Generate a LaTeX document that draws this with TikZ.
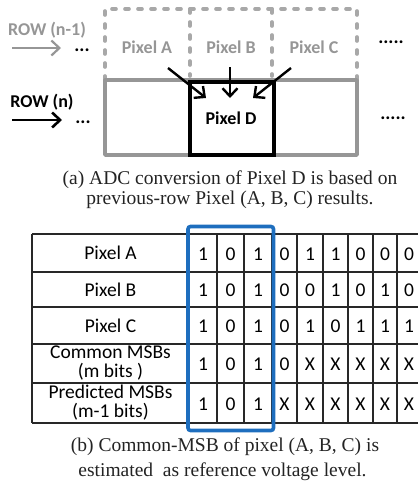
\documentclass[tikz,border=0pt]{standalone}
\usepackage{fontspec}
\setmainfont{Liberation Serif}
\newfontfamily\carlito{Carlito}
\usetikzlibrary{arrows.meta}
\definecolor{rowgray}{RGB}{150,150,150}
\definecolor{dashgray}{RGB}{168,168,168}
\definecolor{gridline}{RGB}{40,40,40}
\definecolor{msbblue}{RGB}{30,110,190}
\definecolor{captext}{RGB}{35,35,35}
\begin{document}
\begin{tikzpicture}[x=1pt,y=-1pt,
  pixlbl/.style={font=\carlito\bfseries\fontsize{18}{20}\selectfont, inner sep=0pt},
  dotlbl/.style={font=\carlito\bfseries\fontsize{19}{20}\selectfont, inner sep=0pt, text=black},
  celltxt/.style={font=\carlito\fontsize{19.5}{19}\selectfont, inner sep=0pt, align=center},
  captxt/.style={font=\fontsize{19.5}{20}\selectfont, text=captext, inner sep=0pt},
  barb/.style={-{Straight Barb[length=8pt,width=15pt,line width=2.4pt]}, line width=2.4pt},
  grid/.style={gridline, line width=1.4pt}]
\useasboundingbox (0,0) rectangle (418,485);

% ---------- (a) pixel rows ----------
% previous row: dashed outline
\draw[dashgray, line width=3.6pt, line cap=round, dash pattern=on 4pt off 9pt]
  (105,80) -- (105,9) -- (357,9) -- (357,80);
\draw[dashgray, line width=3.6pt, line cap=round, dash pattern=on 4pt off 9pt]
  (190,9) -- (190,76);
\draw[dashgray, line width=3.6pt, line cap=round, dash pattern=on 4pt off 9pt]
  (272,9) -- (272,76);
% current row: solid outline
\draw[rowgray, line width=3.4pt, line join=round] (105,80) rectangle (357,155);
% pixel D
\node[draw=black, line width=4pt, minimum width=84pt, minimum height=73pt, inner sep=0pt]
  (pD) at (232,118.5) {};
\node[pixlbl, text=black] (pDl) at (231,118) {Pixel D};

\node[pixlbl, text=rowgray] (pA) at (147,47) {Pixel A};
\node[pixlbl, text=rowgray] (pB) at (231,47) {Pixel B};
\node[pixlbl, text=rowgray] (pC) at (314,47) {Pixel C};

% arrows from A, B, C into D
\coordinate (fA) at (168,68);  \coordinate (tA) at (206,98);
\coordinate (fB) at (230,67);  \coordinate (tB) at (230,98);
\coordinate (fC) at (291,68);  \coordinate (tC) at (253,98);
\draw[barb] (fA) -- (tA);
\draw[barb] (fB) -- (tB);
\draw[barb] (fC) -- (tC);

% row labels
\node[pixlbl, text=rowgray] (rprev) at (47,30) {ROW (n-1)};
\node[pixlbl, text=black] (rcur) at (42,102) {ROW (n)};
\coordinate (aprev0) at (12,48); \coordinate (aprev1) at (61,48);
\coordinate (acur0) at (12,120); \coordinate (acur1) at (62,120);
\draw[rowgray, -{Straight Barb[length=8pt,width=15pt,line width=2.2pt]}, line width=2.2pt] (aprev0) -- (aprev1);
\draw[black, -{Straight Barb[length=8pt,width=15pt,line width=2.6pt]}, line width=2.6pt] (acur0) -- (acur1);
\node[dotlbl] (dl1) at (82,50) {...};
\node[dotlbl] (dl2) at (83,122) {...};
\node[dotlbl] (dr1) at (391,42) {.....};
\node[dotlbl] (dr2) at (393,118) {.....};

% caption (a)
\node[captxt] (capa1) at (230,180) {(a) ADC conversion of Pixel D is based on};
\node[captxt] (capa2) at (230,199.5) {previous-row Pixel (A, B, C) results.};

% ---------- (b) MSB table ----------
\foreach \yy in {234,272,307,344,383,423}
  \draw[grid] (32,\yy) -- (422,\yy);
\foreach \xx in {32,189,217,244,272,297,323,348,373,397,421}
  \draw[grid] (\xx,234) -- (\xx,423);

\node[celltxt] (lA) at (110.5,253) {Pixel A};
\node[celltxt] (lB) at (110.5,289.5) {Pixel B};
\node[celltxt] (lC) at (110.5,325.5) {Pixel C};
\node[celltxt] (lM) at (110.5,363.5) {Common MSBs\\(m bits )};
\node[celltxt] (lP) at (110.5,403) {Predicted MSBs\\(m-1 bits)};

\foreach \row/\yc/\bits in {
    1/254/{1,0,1,0,1,1,0,0,0},
    2/290.5/{1,0,1,0,0,1,0,1,0},
    3/326.5/{1,0,1,0,1,0,1,1,1},
    4/364.5/{1,0,1,0,X,X,X,X,X},
    5/404/{1,0,1,X,X,X,X,X,X}} {
  \foreach \b [count=\c] in \bits {
    \pgfmathsetmacro{\xc}{{0,203,230.5,258,284.5,310,335.5,360.5,385,409}[\c]}
    \node[celltxt] (b\row-\c) at (\xc,\yc) {\b};
  }
}

% common-MSB window
\draw[msbblue, line width=3.6pt, rounded corners=2.5pt] (188,226.5) rectangle (273.5,430.5);

% caption (b)
\node[captxt] (capb1) at (225,447) {(b) Common-MSB of pixel (A, B, C) is};
\node[captxt] (capb2) at (222.5,472) {estimated\ \ as reference voltage level.};
\end{tikzpicture}
\end{document}
